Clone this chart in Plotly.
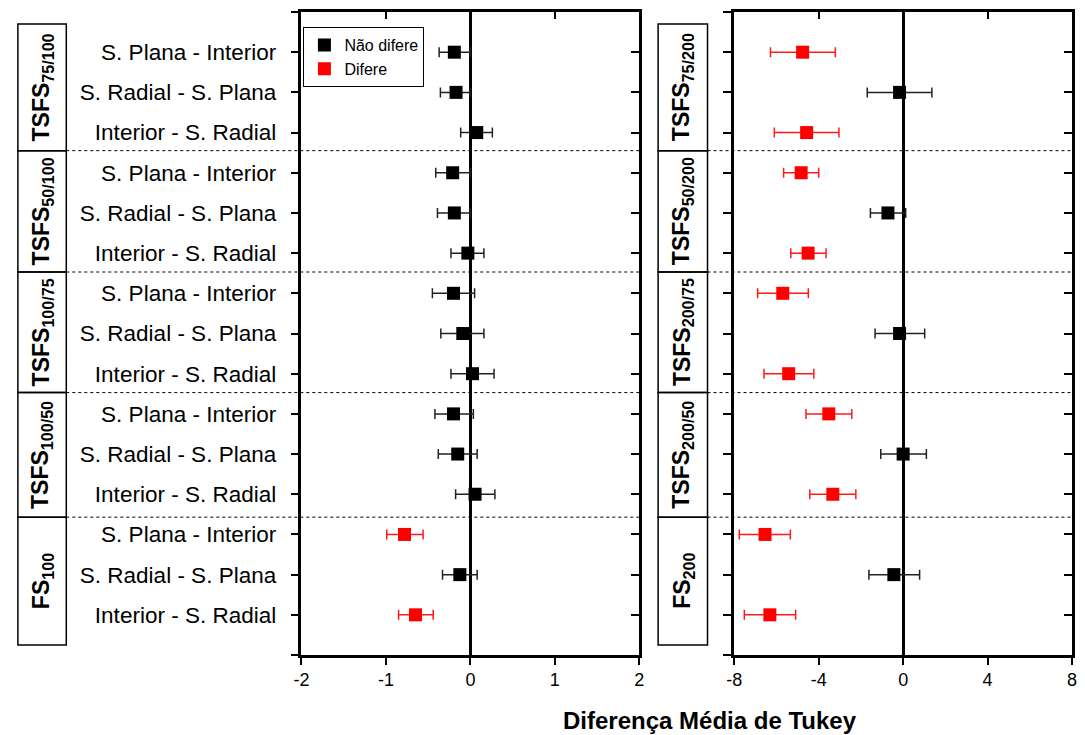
import numpy as np
import plotly.graph_objects as go

# ---------------- data ----------------
comparisons = ["S. Plana - Interior", "S. Radial - S. Plana", "Interior - S. Radial"]
left_groups = ["TSFS<sub>75/100</sub>", "TSFS<sub>50/100</sub>", "TSFS<sub>100/75</sub>",
               "TSFS<sub>100/50</sub>", "FS<sub>100</sub>"]
right_groups = ["TSFS<sub>75/200</sub>", "TSFS<sub>50/200</sub>", "TSFS<sub>200/75</sub>",
                "TSFS<sub>200/50</sub>", "FS<sub>200</sub>"]

# left panel (15 rows, top to bottom)
left_mean = [-0.19, -0.17, 0.075, -0.21, -0.19, -0.03, -0.20, -0.09, 0.025,
             -0.20, -0.15, 0.055, -0.78, -0.125, -0.65]
left_low = [-0.37, -0.355, -0.115, -0.41, -0.39, -0.23, -0.45, -0.35, -0.23,
            -0.42, -0.38, -0.175, -0.99, -0.33, -0.85]
left_high = [0.0, 0.0, 0.26, 0.0, 0.0, 0.16, 0.05, 0.16, 0.28,
             0.035, 0.08, 0.29, -0.56, 0.08, -0.44]
left_sig = [0, 0, 0, 0, 0, 0, 0, 0, 0, 0, 0, 0, 1, 0, 1]

# right panel
right_mean = [-4.76, -0.17, -4.57, -4.83, -0.72, -4.50, -5.70, -0.17, -5.42,
              -3.52, 0.0, -3.33, -6.54, -0.44, -6.31]
right_low = [-6.28, -1.70, -6.10, -5.66, -1.55, -5.32, -6.89, -1.33, -6.59,
             -4.60, -1.06, -4.42, -7.76, -1.62, -7.52]
right_high = [-3.21, 1.36, -3.04, -4.00, 0.12, -3.65, -4.49, 1.02, -4.23,
              -2.43, 1.10, -2.24, -5.34, 0.78, -5.09]
right_sig = [1, 0, 1, 1, 0, 1, 1, 0, 1, 1, 0, 1, 1, 0, 1]

left_xticks = [-2, -1, 0, 1, 2]
right_xticks = [-8, -4, 0, 4, 8]

separators = [3.45, 6.47, 9.47, 12.57]
legend_names = ["Não difere", "Difere"]
x_title = "Diferença Média de Tukey"

# ---------------- build ----------------
rows = np.arange(1, 16)
row_labels = comparisons * 5
FONT = "Liberation Sans, Arial, sans-serif"
COLORS = {0: "black", 1: "#ff0000"}
ERRCOL = {0: "#222222", 1: "#ff1a1a"}

fig = go.Figure()


def add_panel(mean, low, high, sig, xa, ya, show_legend):
    mean = np.array(mean); low = np.array(low); high = np.array(high); sig = np.array(sig)
    for s in (0, 1):
        m = sig == s
        fig.add_trace(go.Scatter(
            x=mean[m], y=rows[m], mode="markers",
            marker=dict(symbol="square", size=13, color=COLORS[s], line=dict(width=0)),
            error_x=dict(type="data", symmetric=False, array=(high - mean)[m],
                         arrayminus=(mean - low)[m], color=ERRCOL[s], thickness=1.5, width=5),
            name=legend_names[s], showlegend=show_legend, legendrank=s + 1,
            xaxis=xa, yaxis=ya, cliponaxis=False))


add_panel(left_mean, left_low, left_high, left_sig, "x", "y", True)
add_panel(right_mean, right_low, right_high, right_sig, "x2", "y2", False)
# dummy traces for mirrored (inward-tick) axes
fig.add_trace(go.Scatter(x=[None], y=[None], xaxis="x3", yaxis="y3", showlegend=False, hoverinfo="skip"))
fig.add_trace(go.Scatter(x=[None], y=[None], xaxis="x4", yaxis="y4", showlegend=False, hoverinfo="skip"))

W, H = 1085, 735
Ldom = [297 / W, 639 / W]
Rdom = [735 / W, 1077 / W]
Ydom = [1 - 655 / H, 1 - 12 / H]

yvals = list(range(0, 17))
ytext_left = [""] + row_labels + [""]

xcommon = dict(showgrid=False, showline=True, mirror=True, linecolor="black", linewidth=2.5,
               ticks="outside", ticklen=7, tickwidth=2, tickcolor="black",
               tickfont=dict(size=18, color="black", family=FONT))
ycommon = dict(showgrid=False, showline=True, mirror=True, linecolor="black", linewidth=2.5,
               ticks="outside", ticklen=8, tickwidth=2, tickcolor="black",
               range=[16, 0], tickvals=yvals, zeroline=False)


def mirror_ax(**kw):
    d = dict(showticklabels=False, ticks="inside", tickwidth=2, tickcolor="black",
             showline=False, showgrid=False, zeroline=False)
    d.update(kw)
    return d


fig.update_layout(
    width=W, height=H, margin=dict(l=0, r=0, t=0, b=0),
    paper_bgcolor="white", plot_bgcolor="white",
    font=dict(family=FONT, color="black"),
    xaxis=dict(domain=Ldom, anchor="y", range=[-2, 2], tickvals=left_xticks,
               ticktext=[str(v) for v in left_xticks],
               zeroline=True, zerolinecolor="black", zerolinewidth=2.5, **xcommon),
    xaxis2=dict(domain=Rdom, anchor="y2", range=[-8, 8], tickvals=right_xticks,
                ticktext=[str(v) for v in right_xticks],
                zeroline=True, zerolinecolor="black", zerolinewidth=2.5, **xcommon),
    yaxis=dict(domain=Ydom, anchor="x", ticktext=ytext_left,
               tickfont=dict(size=22.5, color="black", family=FONT), ticklabelstandoff=10, **ycommon),
    yaxis2=dict(domain=Ydom, anchor="x2", showticklabels=False, **ycommon),
    xaxis3=mirror_ax(overlaying="x", side="top", anchor="y3", range=[-2, 2],
                     tickvals=left_xticks, ticklen=7),
    yaxis3=mirror_ax(overlaying="y", side="right", anchor="x3", range=[16, 0],
                     tickvals=yvals, ticklen=8),
    xaxis4=mirror_ax(overlaying="x2", side="top", anchor="y4", range=[-8, 8],
                     tickvals=right_xticks, ticklen=7),
    yaxis4=mirror_ax(overlaying="y2", side="right", anchor="x4", range=[16, 0],
                     tickvals=yvals, ticklen=8),
    legend=dict(x=299 / W, y=1 - 27 / H, xanchor="left", yanchor="top",
                bordercolor="black", borderwidth=1, bgcolor="white",
                font=dict(size=16, color="black", family=FONT),
                itemwidth=30, tracegroupgap=0),
    showlegend=True,
)

shapes = []
annotations = []
bounds = [0.3] + separators + [15.75]
for panel, (groups, yref, bx0, bx1, lx1) in enumerate([
        (left_groups, "y", 10 / W, 59 / W, 639 / W),
        (right_groups, "y2", 658 / W, 708 / W, 1077 / W)]):
    for i, g in enumerate(groups):
        shapes.append(dict(type="rect", xref="paper", yref=yref, x0=bx0, x1=bx1,
                           y0=bounds[i], y1=bounds[i + 1], line=dict(color="black", width=1.5)))
        annotations.append(dict(text="<b>" + g + "</b>", xref="paper", yref=yref,
                                x=(bx0 + bx1) / 2, y=(bounds[i] + bounds[i + 1]) / 2,
                                textangle=-90, showarrow=False, xanchor="center", yanchor="middle",
                                font=dict(size=23, color="black", family=FONT)))
    for s in separators:
        shapes.append(dict(type="line", xref="paper", yref=yref, x0=bx1, x1=lx1, y0=s, y1=s,
                           line=dict(color="black", width=1, dash="3px,3px")))

annotations.append(dict(text="<b>" + x_title + "</b>", xref="paper", yref="paper",
                        x=711 / W, y=1 - 720 / H, showarrow=False, xanchor="center", yanchor="middle",
                        font=dict(size=24, color="black", family=FONT)))
fig.update_layout(shapes=shapes, annotations=annotations)

fig.write_html("out.html")
